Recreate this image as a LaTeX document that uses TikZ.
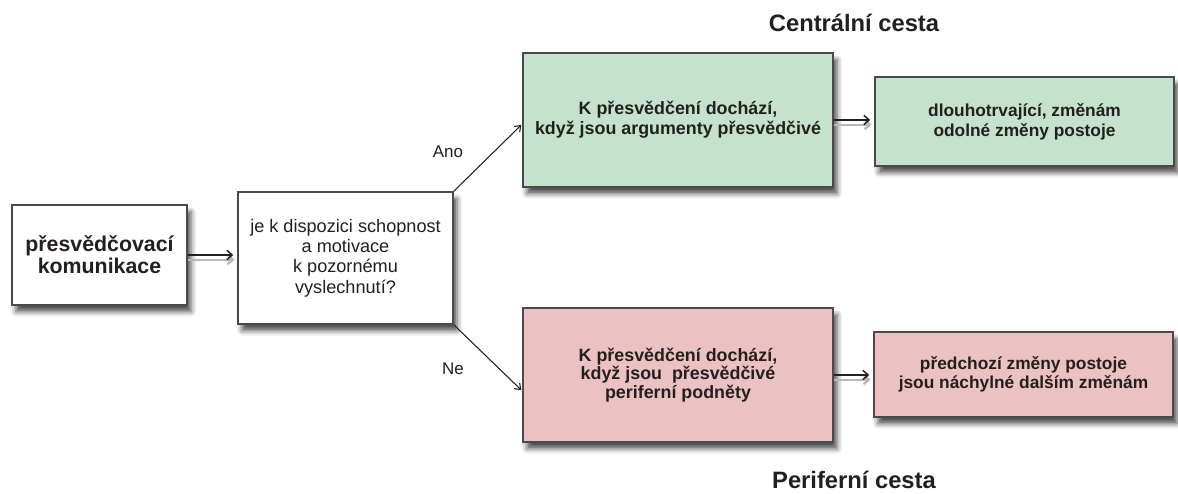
\documentclass[tikz,border=0pt]{standalone}
\usepackage{fontspec}
\setmainfont{Liberation Sans}
\usetikzlibrary{arrows.meta,shadows.blur,calc}
\definecolor{frame}{HTML}{4A4A4A}
\definecolor{ink}{HTML}{231F20}
\definecolor{greenfill}{HTML}{C4E2CD}
\definecolor{pinkfill}{HTML}{EBC1C1}
\begin{document}
\begin{tikzpicture}[x=0.75pt,y=-0.75pt,
  box/.style={draw=frame, line width=1.1pt, fill=white, inner sep=0pt,
    align=center, text=ink,
    blur shadow={shadow xshift=3pt, shadow yshift=-5pt,
      shadow blur radius=4pt, shadow opacity=70}},
  greenbox/.style={box, fill=greenfill},
  pinkbox/.style={box, fill=pinkfill},
  harrow/.style={draw=ink, line width=1.1pt,
    -{Straight Barb[length=4pt,width=7pt]}, shorten >=3pt},
  hshadow/.style={draw=black!28, line width=1.7pt,
    -{Straight Barb[length=4pt,width=7pt]}, shorten >=2pt,
    transform canvas={yshift=-3.5pt}},
  darrow/.style={draw=ink, line width=0.8pt,
    -{Straight Barb[length=4pt,width=6pt]}, shorten >=1pt},
  label/.style={text=ink, font=\fontsize{12.7}{14}\selectfont},
  title/.style={text=ink, inner sep=0pt, font=\fontsize{17.8}{20}\selectfont\bfseries}]
\useasboundingbox (0,0) rectangle (1178,493);

% boxes
\node[box, minimum width=131.25pt, minimum height=75pt,
  font=\fontsize{16}{16.5}\selectfont\bfseries] (src) at (99.5,255)
  {přesvědčovací\\komunikace};
\node[box, minimum width=161.25pt, minimum height=99pt,
  font=\fontsize{13.6}{15.2}\selectfont] (ask) at (345.5,258)
  {je k dispozici schopnost\\a motivace\\k pozornému\\vyslechnutí?};
\node[greenbox, minimum width=232.5pt, minimum height=100.5pt,
  font=\fontsize{13.4}{15}\selectfont\bfseries] (cen) at (678,120)
  {K přesvědčení dochází,\\když jsou argumenty přesvědčivé};
\node[greenbox, minimum width=224.25pt, minimum height=66.75pt,
  font=\fontsize{13}{15}\selectfont\bfseries] (cres) at (1024.5,121.5)
  {dlouhotrvající, změnám\\odolné změny postoje};
\node[pinkbox, minimum width=232.5pt, minimum height=100.5pt,
  font=\fontsize{13.4}{14}\selectfont\bfseries] (per) at (678,375)
  {K přesvědčení dochází,\\když jsou~ přesvědčivé\\periferní podněty};
\node[pinkbox, minimum width=224.25pt, minimum height=63.75pt,
  font=\fontsize{13}{13.8}\selectfont\bfseries] (pres) at (1023.5,374.5)
  {předchozí změny postoje\\jsou náchylné dalším změnám};

% titles and branch labels
\node[title, anchor=base] (tcen) at (854,31) {Centrální cesta};
\node[title, anchor=base] (tper) at (854,488) {Periferní cesta};
\node[label] (ano) at (448,152) {Ano};
\node[label] (ne) at (453,369) {Ne};

% horizontal arrows with their shadows
\draw[hshadow] (src.east) -- (src.east -| ask.west);
\draw[harrow] (src.east) -- (src.east -| ask.west);
\draw[hshadow] (cen.east) -- (cen.east -| cres.west);
\draw[harrow] (cen.east) -- (cen.east -| cres.west);
\draw[hshadow] (per.east) -- (per.east -| pres.west);
\draw[harrow] (per.east) -- (per.east -| pres.west);

% decision branches
\draw[darrow] (ask.north east) -- ($(cen.west)+(0,4)$);
\draw[darrow] (ask.south east) -- ($(per.west)+(0,16)$);
\end{tikzpicture}
\end{document}
